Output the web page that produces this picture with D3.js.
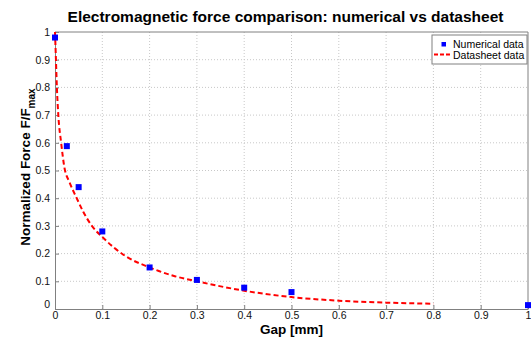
<!DOCTYPE html>
<html>
<head>
<meta charset="utf-8">
<script src="https://cdn.jsdelivr.net/npm/d3@7"></script>
<style>
body { margin: 0; background: #fff; }
text { font-family: "Liberation Sans", Arial, sans-serif; }
</style>
</head>
<body>
<svg id="chart" width="531" height="338"></svg>
<script>
// numerical simulation results
var numGap = [0, 0.025, 0.05, 0.1, 0.2, 0.3, 0.4, 0.5, 1.0];
var numForce = [0.98, 0.588, 0.44, 0.28, 0.15, 0.105, 0.077, 0.061, 0.014];

// datasheet curve
var sheetGap = [0, 0.002, 0.004, 0.007, 0.013, 0.02, 0.03, 0.046, 0.06, 0.078, 0.1, 0.15, 0.2, 0.25, 0.3, 0.4, 0.5, 0.6, 0.7, 0.8];
var sheetForce = [1, 0.9, 0.8, 0.7, 0.6, 0.51, 0.46, 0.40, 0.35, 0.30, 0.26, 0.19, 0.15, 0.12, 0.1, 0.066, 0.043, 0.03, 0.023, 0.019];

var xTicks = [0, 0.1, 0.2, 0.3, 0.4, 0.5, 0.6, 0.7, 0.8, 0.9, 1];
var yTicks = [0, 0.1, 0.2, 0.3, 0.4, 0.5, 0.6, 0.7, 0.8, 0.9, 1];

var svg = d3.select("#chart");
var padL = 55, padR = 528, padT = 32, padB = 309;

var x = d3.scaleLinear().domain([0, 1]).range([padL, padR]);
var y = d3.scaleLinear().domain([0, 1]).range([padB, padT]);

// grid
var grid = svg.append("g");
grid.selectAll("line.gx").data(xTicks.slice(1, -1)).enter().append("line")
    .attr("x1", d => x(d)).attr("x2", d => x(d))
    .attr("y1", padT).attr("y2", padB)
    .attr("stroke", "#c8c8c8").attr("stroke-dasharray", "1,2");
grid.selectAll("line.gy").data(yTicks.slice(1, -1)).enter().append("line")
    .attr("x1", padL).attr("x2", padR)
    .attr("y1", d => y(d)).attr("y2", d => y(d))
    .attr("stroke", "#c8c8c8").attr("stroke-dasharray", "1,2");

// axes (matlab style: inward ticks, box)
var xAxis = svg.append("g").attr("transform", "translate(0," + padB + ")")
    .call(d3.axisBottom(x).tickValues(xTicks).tickFormat(d3.format("")).tickSizeInner(-4).tickSizeOuter(0).tickPadding(3));
var yAxis = svg.append("g").attr("transform", "translate(" + padL + ",0)")
    .call(d3.axisLeft(y).tickValues(yTicks).tickFormat(d3.format("")).tickSizeInner(-4).tickSizeOuter(0).tickPadding(5));
[xAxis, yAxis].forEach(function (a) {
    a.select(".domain").attr("stroke", "#808080");
    a.selectAll(".tick line").attr("stroke", "#808080");
    a.selectAll(".tick text").attr("fill", "#111").style("font-size", "10.5px")
        .style("font-family", "'Liberation Sans', Arial, sans-serif");
});
yAxis.selectAll(".tick").filter(d => d === 0).select("text").attr("dy", "-0.1em");

// top and right box edges
svg.append("line").attr("x1", padL).attr("x2", padR).attr("y1", padT).attr("y2", padT).attr("stroke", "#808080");
svg.append("line").attr("x1", padR).attr("x2", padR).attr("y1", padT).attr("y2", padB).attr("stroke", "#808080");

// datasheet curve
var line = d3.line().x(d => x(d[0])).y(d => y(d[1])).curve(d3.curveMonotoneX);
svg.append("path")
    .datum(d3.zip(sheetGap, sheetForce))
    .attr("d", line)
    .attr("fill", "none")
    .attr("stroke", "#ff0000")
    .attr("stroke-width", 2)
    .attr("stroke-dasharray", "5,3");

// numerical points
svg.selectAll("rect.pt").data(d3.zip(numGap, numForce)).enter().append("rect")
    .attr("x", d => x(d[0]) - 3).attr("y", d => y(d[1]) - 3)
    .attr("width", 6).attr("height", 6)
    .attr("fill", "#0000ff");

// title and labels
svg.append("text").attr("x", (padL + padR) / 2 - 6).attr("y", 22)
    .attr("text-anchor", "middle").style("font-size", "15.5px").style("font-weight", "bold")
    .text("Electromagnetic force comparison: numerical vs datasheet");
svg.append("text").attr("x", (padL + padR) / 2).attr("y", 334)
    .attr("text-anchor", "middle").style("font-size", "13.5px").style("font-weight", "bold")
    .text("Gap [mm]");
var yl = svg.append("text")
    .attr("transform", "translate(30,167) rotate(-90)")
    .attr("text-anchor", "middle").style("font-size", "13.5px").style("font-weight", "bold");
yl.append("tspan").text("Normalized Force F/F");
yl.append("tspan").attr("dy", 4.5).style("font-size", "10px").text("max");

// legend
var lg = svg.append("g").attr("transform", "translate(432,35)");
lg.append("rect").attr("width", 95).attr("height", 29).attr("fill", "#fff").attr("stroke", "#808080");
lg.append("rect").attr("x", 9.5).attr("y", 7).attr("width", 4.5).attr("height", 4.5).attr("fill", "#0000ff");
lg.append("text").attr("x", 21).attr("y", 13).style("font-size", "10.5px").text("Numerical data");
lg.append("line").attr("x1", 2).attr("x2", 20).attr("y1", 19.5).attr("y2", 19.5)
    .attr("stroke", "#ff0000").attr("stroke-width", 2).attr("stroke-dasharray", "4,2");
lg.append("text").attr("x", 21).attr("y", 23.5).style("font-size", "10.5px").text("Datasheet data");
</script>
</body>
</html>
